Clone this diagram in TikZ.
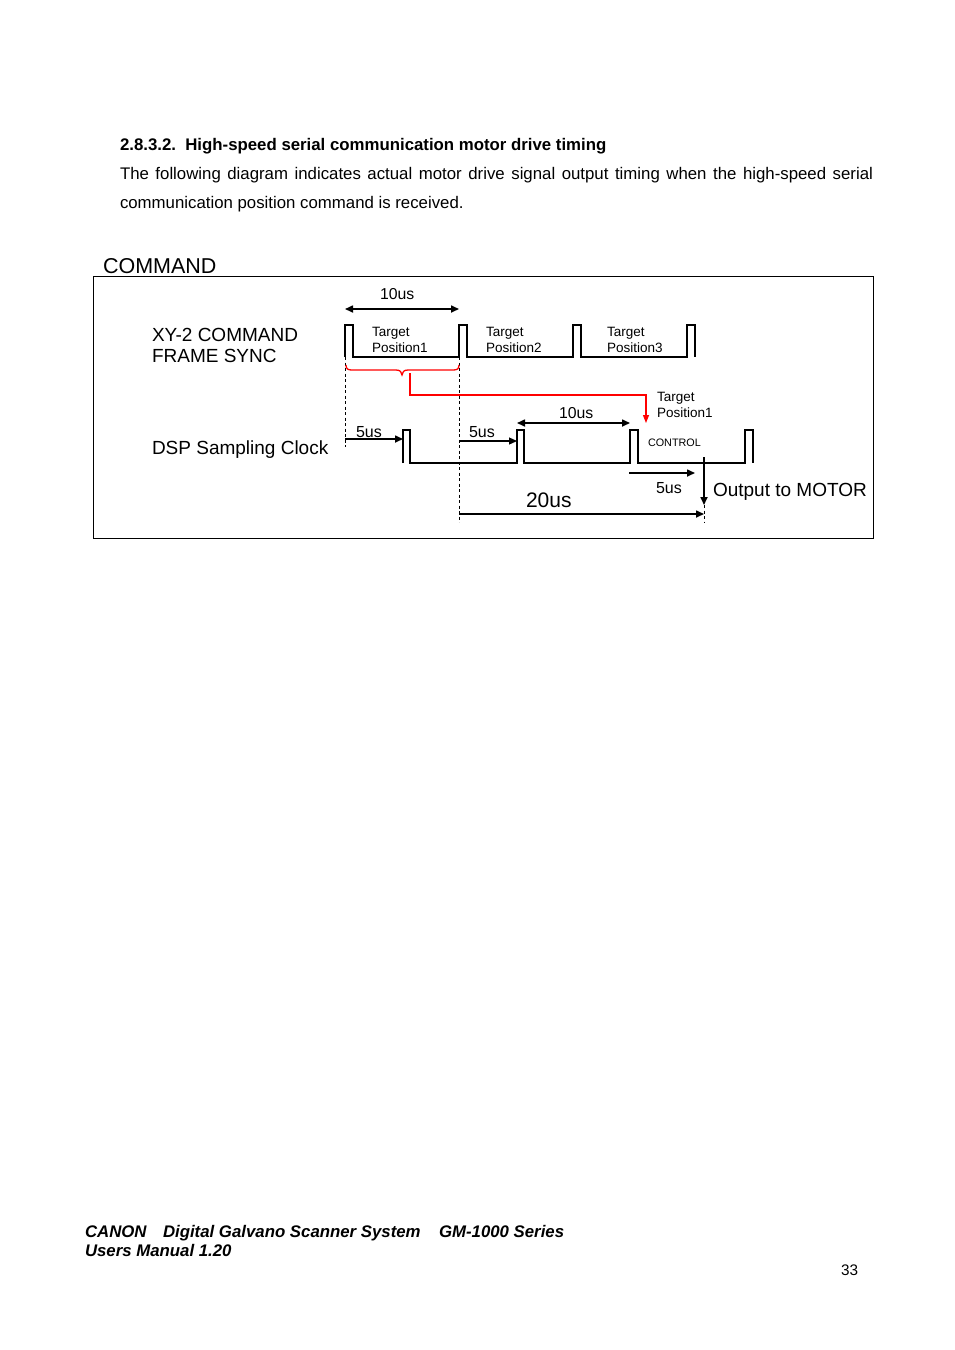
\documentclass[tikz,border=0pt]{standalone}
\usepackage{fontspec}
\setmainfont{Liberation Sans}
\usetikzlibrary{arrows.meta}
\begin{document}
\begin{tikzpicture}[x=1pt,y=-1pt,
  txt/.style={anchor=base west,inner sep=0pt,outer sep=0pt},
  body/.style={txt,font=\fontsize{16.8}{20}\selectfont},
  big/.style={txt,font=\fontsize{19}{22}\selectfont},
  small/.style={txt,font=\fontsize{13.5}{16}\selectfont},
  mid/.style={txt,font=\fontsize{15.8}{18}\selectfont},
  foot/.style={txt,font=\fontsize{16.8}{20}\bfseries\itshape\selectfont},
  wave/.style={line width=1.1pt,line join=miter},
  tipA/.tip={Triangle[length=8pt,width=7pt]},
  arr/.style={line width=1.6pt,-tipA},
  darr/.style={line width=1.6pt,tipA-tipA},
  dsh/.style={line width=0.9pt,dash pattern=on 3pt off 2.5pt},
  redl/.style={red,line width=1.3pt}
]
\useasboundingbox (0,0) rectangle (954,1350);
\fill[white] (0,0) rectangle (954,1350);

% header text
\node[body,font=\fontsize{16.8}{20}\bfseries\selectfont] (hd) at (120,150) {2.8.3.2.\ \ High-speed serial communication motor drive timing};
\node[body] (p1) at (120,179) {\makebox[753pt][s]{The following diagram indicates actual motor drive signal output timing when the high-speed serial}};
\node[body] (p2) at (120,208) {communication position command is received.};

\node[txt,font=\fontsize{21.5}{24}\selectfont] (cmd) at (103,273) {COMMAND};
\draw[line width=1pt] (93,276) rectangle (873,538);

% row labels
\node[big] (xy) at (152,341) {XY-2 COMMAND};
\node[big] (fs) at (152,362) {FRAME SYNC};
\node[big] (dsp) at (152,454) {DSP Sampling Clock};

% frame sync waveform
\draw[wave] (345,357) -- (345,325) -- (353,325) -- (353,357) -- (459,357) -- (459,325) -- (467,325) -- (467,357)
  -- (573,357) -- (573,325) -- (581,325) -- (581,357) -- (687,357) -- (687,325) -- (695,325) -- (695,357);
\draw[line width=1.8pt] (695,325) -- (695,357);

\node[small] (t1a) at (372,336) {Target};
\node[small] (t1b) at (372,352) {Position1};
\node[small] (t2a) at (486,336) {Target};
\node[small] (t2b) at (486,352) {Position2};
\node[small] (t3a) at (607,336) {Target};
\node[small] (t3b) at (607,352) {Position3};

% top 10us
\coordinate (a10l) at (345,309);
\coordinate (a10r) at (459,309);
\draw[darr] (a10l) -- (a10r);
\node[mid] (l10a) at (380,299) {10us};

% dashed guides
\coordinate (d1t) at (345,357);
\coordinate (d1b) at (345,447);
\coordinate (d2t) at (459,357);
\coordinate (d2b) at (459,522);
\draw[dsh] (d1t) -- (d1b);
\draw[dsh] (d2t) -- (d2b);

% red brace and route
\draw[redl] (346,365) .. controls (346,369) and (348,370) .. (352,370) -- (396,370)
  .. controls (400,370) and (402,372) .. (402,375)
  .. controls (402,372) and (404,370) .. (408,370) -- (453,370)
  .. controls (457,370) and (459,369) .. (459,365);
\coordinate (rs) at (410,373);
\coordinate (re) at (646,423);
\draw[redl,-{Triangle[length=8pt,width=6pt]}] (rs) -- (410,395) -- (646,395) -- (re);

% DSP clock waveform
\draw[wave] (403,463) -- (403,430) -- (410,430) -- (410,463) -- (517,463) -- (517,430) -- (524,430) -- (524,463)
  -- (630,463) -- (630,430) -- (638,430) -- (638,463) -- (745,463) -- (745,430) -- (753,430) -- (753,463);

% 5us arrows
\coordinate (f1s) at (345,439);
\coordinate (f1e) at (403,439);
\draw[arr] (f1s) -- (f1e);
\node[mid,font=\fontsize{16}{18}\selectfont] (l5a) at (356,437) {5us};
\coordinate (f2s) at (459,441);
\coordinate (f2e) at (517,441);
\draw[arr,line width=1.2pt] (f2s) -- (f2e);
\node[mid,font=\fontsize{16}{18}\selectfont] (l5b) at (469,437) {5us};

% middle 10us
\coordinate (m10l) at (517,423);
\coordinate (m10r) at (630,423);
\draw[darr] (m10l) -- (m10r);
\node[mid] (l10b) at (559,418) {10us};

\node[small] (tp1a) at (657,401) {Target};
\node[small] (tp1b) at (657,417) {Position1};
\node[txt,font=\fontsize{10.8}{13}\selectfont] (ctl) at (648,446) {CONTROL};

% lower 5us
\coordinate (f3s) at (629,473);
\coordinate (f3e) at (695,473);
\draw[arr] (f3s) -- (f3e);
\node[mid,font=\fontsize{16}{18}\selectfont] (l5c) at (656,493) {5us};

% output arrow
\coordinate (os) at (704,457);
\coordinate (oe) at (704,505);
\coordinate (ob) at (704,522);
\draw[arr] (os) -- (oe);
\draw[dsh] (oe) -- (ob);
\node[big] (out) at (713,496) {Output to MOTOR};

% 20us
\coordinate (t20s) at (459,514);
\coordinate (t20e) at (704,514);
\draw[arr] (t20s) -- (t20e);
\node[txt,font=\fontsize{21}{24}\selectfont] (l20) at (526,507) {20us};

% footer
\node[foot] (ft1) at (85,1237) {CANON};
\node[foot] (ft2) at (163,1237) {Digital Galvano Scanner System};
\node[foot] (ft3) at (439,1237) {GM-1000 Series};
\node[foot] (ft4) at (85,1256) {Users Manual 1.20};
\node[txt,font=\fontsize{15.3}{18}\selectfont] (pg) at (841,1275) {33};
\end{tikzpicture}
\end{document}
